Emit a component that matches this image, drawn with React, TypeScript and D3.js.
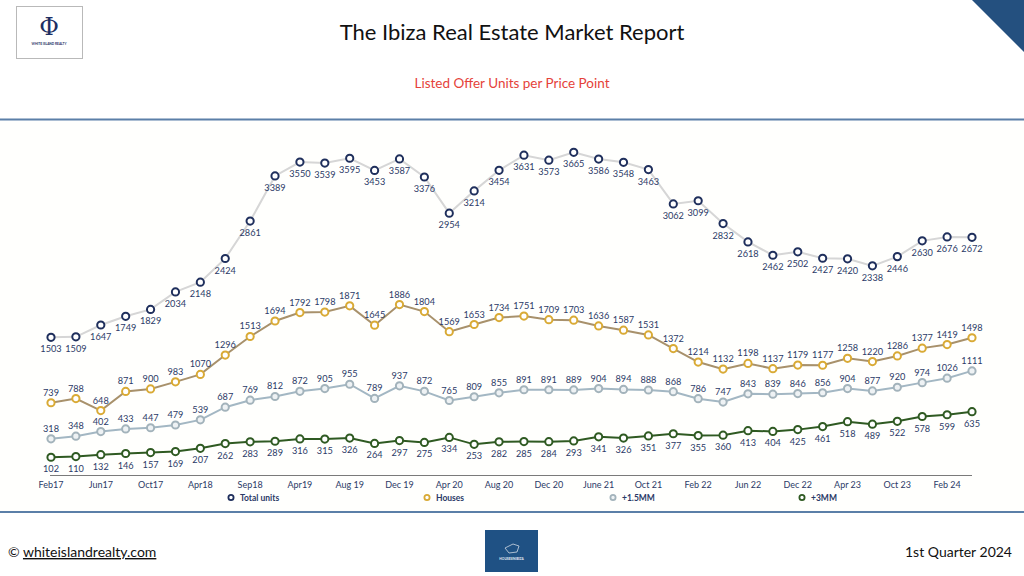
import React from "react";
import * as d3 from "d3";

const totalUnits = [1503, 1509, 1647, 1749, 1829, 2034, 2148, 2424, 2861, 3389, 3550, 3539, 3595, 3453, 3587, 3376, 2954, 3214, 3454, 3631, 3573, 3665, 3586, 3548, 3463, 3062, 3099, 2832, 2618, 2462, 2502, 2427, 2420, 2338, 2446, 2630, 2676, 2672];
const houses = [739, 788, 648, 871, 900, 983, 1070, 1296, 1513, 1694, 1792, 1798, 1871, 1645, 1886, 1804, 1569, 1653, 1734, 1751, 1709, 1703, 1636, 1587, 1531, 1372, 1214, 1132, 1198, 1137, 1179, 1177, 1258, 1220, 1286, 1377, 1419, 1498];
const plus15MM = [318, 348, 402, 433, 447, 479, 539, 687, 769, 812, 872, 905, 955, 789, 937, 872, 765, 809, 855, 891, 891, 889, 904, 894, 888, 868, 786, 747, 843, 839, 846, 856, 904, 877, 920, 974, 1026, 1111];
const plus3MM = [102, 110, 132, 146, 157, 169, 207, 262, 283, 289, 316, 315, 326, 264, 297, 275, 334, 253, 282, 285, 284, 293, 341, 326, 351, 377, 355, 360, 413, 404, 425, 461, 518, 489, 522, 578, 599, 635];
const tickLabels = ["Feb17", "Jun17", "Oct17", "Apr18", "Sep18", "Apr19", "Aug 19", "Dec 19", "Apr 20", "Aug 20", "Dec 20", "June 21", "Oct 21", "Feb 22", "Jun 22", "Dec 22", "Apr 23", "Oct 23", "Feb 24"];

const seriesNames = ["Total units", "Houses", "+1.5MM", "+3MM"];

const FONT = "Lato, 'Open Sans', sans-serif";
const LABEL = "#2b3a67";

export default function App() {
  const idx = d3.range(totalUnits.length);
  const x = d3.scalePoint<number>().domain(idx).range([51, 972]);
  const y = d3.scaleLinear().domain([0, 4000]).range([466, 123.6]);
  const line = (vals: number[]) =>
    d3.line<number>().x((_, i) => x(i)!).y((v) => y(v))(vals) || "";

  const series = [
    { name: seriesNames[0], data: totalUnits, line: "#d6d6d6", stroke: "#1f2f5c", fill: "#ffffff", lw: 2, below: true },
    { name: seriesNames[1], data: houses, line: "#a8916b", stroke: "#d9aa35", fill: "#ffffff", lw: 2, below: false },
    { name: seriesNames[2], data: plus15MM, line: "#a3b7c3", stroke: "#a3b3bb", fill: "#eef2f4", lw: 2, below: false },
    { name: seriesNames[3], data: plus3MM, line: "#2f5a22", stroke: "#2f5a22", fill: "#ffffff", lw: 2, below: true },
  ];

  const legendX = [231, 427, 613, 802];

  return (
    <svg width={1024} height={576} style={{ position: "absolute", left: 0, top: 0, background: "#fff" }} fontFamily={FONT}>
      {/* header logo */}
      <rect x={16.5} y={6.5} width={66} height={52} fill="#fff" stroke="#b9b9b9" strokeWidth={1} />
      <text x={49} y={35} textAnchor="middle" fontSize={24} fill="#1d2f63" fontFamily="'DejaVu Serif', serif">Φ</text>
      <text x={49} y={45} textAnchor="middle" fontSize={3.2} fill="#1d2f63" fontWeight={700}>WHITE ISLAND REALTY</text>
      {/* corner triangle */}
      <polygon points="972,0 1024,0 1024,52" fill="#24507f" />
      {/* titles */}
      <text x={512} y={40} textAnchor="middle" fontSize={22} fill="#111">The Ibiza Real Estate Market Report</text>
      <text x={512} y={88} textAnchor="middle" fontSize={13.5} fill="#e5423a">Listed Offer Units per Price Point</text>
      <line x1={0} x2={1024} y1={119.5} y2={119.5} stroke="#5b7fa8" strokeWidth={2} />
      <rect x={0} y={121} width={1024} height={390} fill="#fffffd" />
      <line x1={0} x2={1024} y1={512} y2={512} stroke="#5b7fa8" strokeWidth={2} />

      {/* axis */}
      <line x1={50} x2={972} y1={475.5} y2={475.5} stroke="#7a7a7a" strokeWidth={1.2} />
      {tickLabels.map((t, k) => (
        <text key={t} x={x(k * 2)!} y={488} textAnchor="middle" fontSize={9} fill={LABEL}>{t}</text>
      ))}

      {/* series */}
      {series.map((s) => (
        <g key={s.name}>
          <path d={line(s.data)} fill="none" stroke={s.line} strokeWidth={s.lw} />
          {s.data.map((v, i) => (
            <circle key={i} cx={x(i)!} cy={y(v)} r={3.6} fill={s.fill} stroke={s.stroke} strokeWidth={2} />
          ))}
          {s.data.map((v, i) => (
            <text key={"t" + i} x={x(i)!} y={s.below ? y(v) + 15 : y(v) - 7} textAnchor="middle" fontSize={9.2} fill={LABEL}>{v}</text>
          ))}
        </g>
      ))}

      {/* legend */}
      {series.map((s, k) => (
        <g key={"lg" + k}>
          <circle cx={legendX[k]} cy={497.5} r={2.6} fill={s.fill} stroke={s.stroke} strokeWidth={1.8} />
          <text x={legendX[k] + 9} y={500.5} fontSize={8.5} fontWeight={700} fill={LABEL}>{s.name}</text>
        </g>
      ))}

      {/* footer */}
      <text x={8} y={557} fontSize={14} fill="#111">© <tspan textDecoration="underline">whiteislandrealty.com</tspan></text>
      <rect x={485} y={530} width={53} height={42} fill="#1f5184" />
      <path d="M505,548 l8,-4 l6,2 l-2,6 l-8,1 z" fill="none" stroke="#cfd8e3" strokeWidth={0.8} />
      <text x={511.5} y={560} textAnchor="middle" fontSize={3.2} fill="#e8eef5" fontWeight={700}>HOUSESINIBIZA</text>
      <text x={1012} y={557} textAnchor="end" fontSize={14} fill="#111">1st Quarter 2024</text>
    </svg>
  );
}
